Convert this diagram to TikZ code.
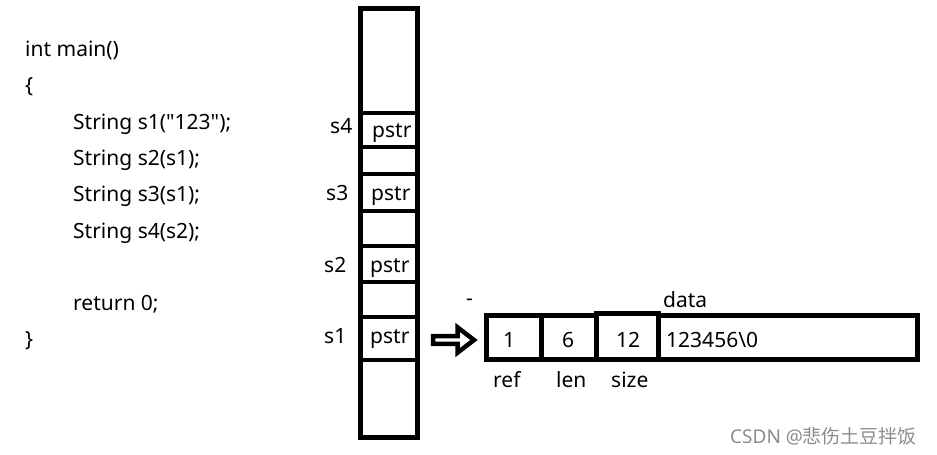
\documentclass[tikz,border=0pt]{standalone}
\usepackage{fontspec}
\setmainfont{Noto Sans}[Ligatures=TeXOff]
\newfontfamily\cjk{Noto Sans CJK SC}
\usetikzlibrary{shapes.arrows}
\begin{document}
\begin{tikzpicture}[x=1pt,y=-1pt,
  txt/.style={anchor=base west,inner sep=0pt,font=\fontsize{21}{24}\selectfont},
  cell/.style={draw,line width=4.5pt,inner sep=0pt,minimum width=57pt},
  fld/.style={draw,line width=5pt,inner sep=0pt}]
\useasboundingbox (0,0) rectangle (937,455);
% code
\node[txt] (c1) at (25,56) {int main()};
\node[txt] (c2) at (25,92) {\{};
\node[txt] (c3) at (73,129) {String s1("123");};
\node[txt] (c4) at (73,165) {String s2(s1);};
\node[txt] (c5) at (73,201) {String s3(s1);};
\node[txt] (c6) at (73,238) {String s4(s2);};
\node[txt] (c7) at (73,310) {return 0;};
\node[txt] (c8) at (25,346) {\}};
% stack column
\node[draw,line width=4.5pt,minimum width=57pt,minimum height=429pt,inner sep=0pt] (col) at (389,223) {};
\node[cell,minimum height=34pt] (p4) at (389,130) {};
\node[cell,minimum height=37pt] (p3) at (389,192.5) {};
\node[cell,minimum height=36pt] (p2) at (389,264) {};
\node[cell,minimum height=43pt] (p1) at (389,338.5) {};
\node[txt] (t4) at (372,137) {pstr};
\node[txt] (t3) at (371,200) {pstr};
\node[txt] (t2) at (370,272) {pstr};
\node[txt] (t1) at (370,343) {pstr};
\node[txt] (l4) at (330,133) {s4};
\node[txt] (l3) at (326,200) {s3};
\node[txt] (l2) at (324,272) {s2};
\node[txt] (l1) at (324,343) {s1};
% arrow
\node[single arrow,draw,line width=4.5pt,minimum height=41pt,minimum width=25pt,single arrow head extend=5pt,single arrow tip angle=75,inner sep=0pt] (arr) at (451,340) {};
% fields
\node[fld,minimum width=55pt,minimum height=44pt] (ref) at (513.5,337) {};
\node[fld,minimum width=55pt,minimum height=44pt] (len) at (568.5,337) {};
\node[fld,minimum width=62pt,minimum height=46pt] (size) at (627,336) {};
\node[fld,minimum width=259pt,minimum height=44pt] (data) at (787.5,337) {};
\node[txt] (v1) at (503,347) {1};
\node[txt] (v2) at (562,347) {6};
\node[txt] (v3) at (616,347) {12};
\node[txt] (dv) at (666,347) {123456\textbackslash 0};
\node[txt] (dl) at (663,307) {data};
\node[txt] (rl) at (493,387) {ref};
\node[txt] (ll) at (556,387) {len};
\node[txt] (sl) at (611,387) {size};
\node[txt] (dash) at (466,305) {-};
\node[anchor=base west,inner sep=0pt,text=black!45,font=\fontsize{19}{22}\selectfont] (wm) at (730,443) {CSDN @{\cjk 悲伤土豆拌饭}};
\end{tikzpicture}
\end{document}
